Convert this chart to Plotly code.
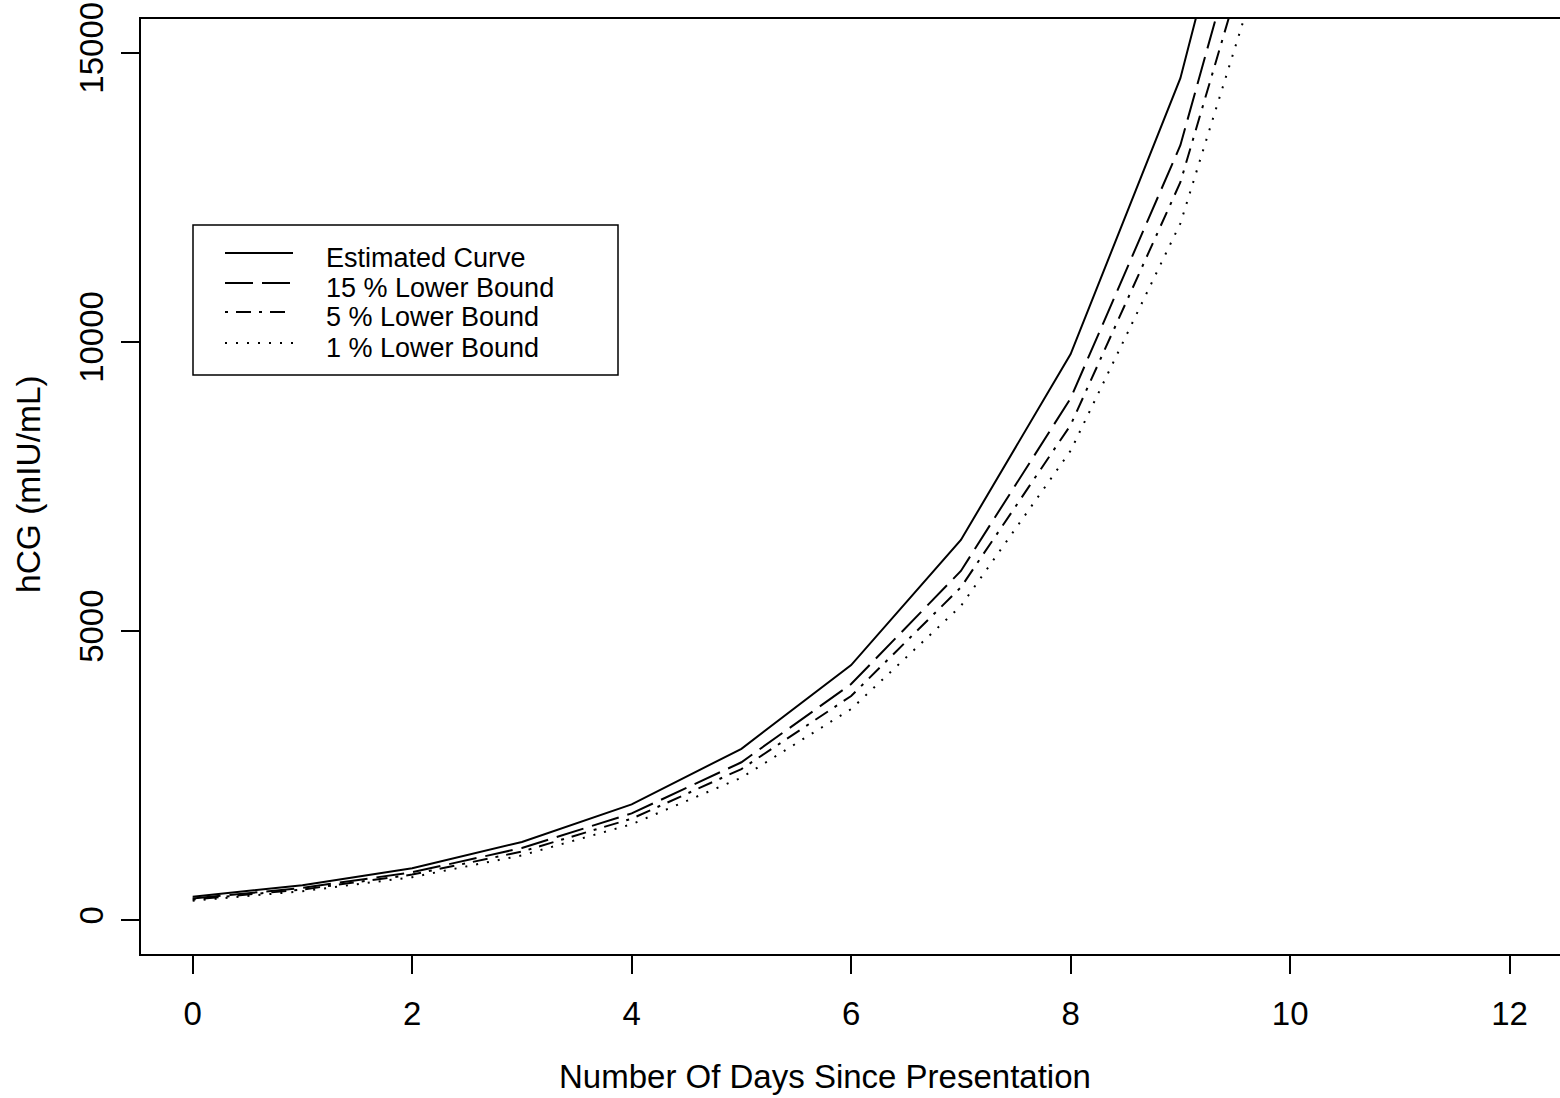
import plotly.graph_objects as go

# ---- data ----
days = [0, 1, 2, 3, 4, 5, 6, 7, 8, 9, 10, 11, 12]
estimated = [408, 607, 900, 1355, 2005, 2965, 4412, 6575, 9790, 14560, 21900, 32600, 48500]
lower_15 = [376, 560, 830, 1250, 1848, 2732, 4085, 6040, 9025, 13400, 20200, 30000, 44700]
lower_5 = [358, 532, 790, 1188, 1757, 2615, 3878, 5757, 8563, 12760, 19200, 28600, 42500]
lower_1 = [338, 503, 746, 1122, 1660, 2466, 3653, 5434, 8119, 12050, 18150, 27000, 40200]

series_names = ["Estimated Curve", "15 % Lower Bound", "5 % Lower Bound", "1 % Lower Bound"]
series_values = [estimated, lower_15, lower_5, lower_1]

x_ticks = [0, 2, 4, 6, 8, 10, 12]
y_ticks = [0, 5000, 10000, 15000]

x_title = "Number Of Days Since Presentation"
y_title = "hCG (mIU/mL)"

# ---- styling ----
FONT = "Liberation Sans, Arial, Helvetica, sans-serif"
dashes = ["solid", "28px,9px", "3px,8px,15px,8px", "2px,9px"]
W, H = 1560, 1098
L, R, T, B = 140, 0, 18, 143
PW, PH = W - L - R, H - T - B


def px(xp):
    return (xp - L) / PW


def py(yp):
    return (H - B - yp) / PH


fig = go.Figure()
for name, vals, dash in zip(series_names, series_values, dashes):
    fig.add_trace(go.Scatter(
        x=days, y=vals, mode="lines", name=name, showlegend=False,
        line=dict(color="black", width=2, dash=dash),
    ))

shapes = []
annotations = []
# plot box (right side runs off the page as in the reference)
shapes.append(dict(type="rect", xref="paper", yref="paper", x0=0, x1=1.01, y0=0, y1=1,
                   line=dict(color="black", width=2)))

# manual legend
shapes.append(dict(type="rect", xref="paper", yref="paper",
                   x0=px(193), x1=px(618), y0=py(375), y1=py(225),
                   line=dict(color="black", width=1.5), fillcolor="white"))
leg_y = [253, 283, 312, 343]
for name, dash, yy in zip(series_names, dashes, leg_y):
    shapes.append(dict(type="line", xref="paper", yref="paper",
                       x0=px(225), x1=px(293), y0=py(yy), y1=py(yy),
                       line=dict(color="black", width=2, dash=dash)))
    annotations.append(dict(xref="paper", yref="paper", x=px(324), y=py(yy + 5),
                            text=name, showarrow=False, xanchor="left", yanchor="middle",
                            font=dict(family=FONT, size=27, color="black")))

# axis titles
annotations.append(dict(xref="paper", yref="paper", x=px(825), y=py(1076),
                        text=x_title, showarrow=False, xanchor="center", yanchor="middle",
                        font=dict(family=FONT, size=33, color="black")))
annotations.append(dict(xref="paper", yref="paper", x=px(28), y=py(484),
                        text=y_title, showarrow=False, xanchor="center", yanchor="middle",
                        textangle=-90,
                        font=dict(family=FONT, size=33.5, color="black")))

fig.update_layout(
    width=W, height=H,
    margin=dict(l=L, r=R, t=T, b=B, pad=0),
    paper_bgcolor="white", plot_bgcolor="white",
    font=dict(family=FONT, size=33, color="black"),
    shapes=shapes, annotations=annotations,
    showlegend=False,
)
fig.update_xaxes(
    range=[-0.48, 12.459], tickvals=x_ticks, ticktext=[str(v) for v in x_ticks],
    ticks="outside", ticklen=18, tickwidth=2, tickcolor="black",
    showgrid=False, zeroline=False, showline=False,
    tickfont=dict(family=FONT, size=33, color="black"),
    ticklabelstandoff=11,
)
fig.update_yaxes(
    range=[-600, 15600], tickvals=y_ticks, ticktext=[str(v) for v in y_ticks],
    ticks="outside", ticklen=18, tickwidth=2, tickcolor="black",
    showgrid=False, zeroline=False, showline=False, tickangle=-90,
    tickfont=dict(family=FONT, size=33, color="black"),
    ticklabelstandoff=5,
)

fig.write_html("out.html")
